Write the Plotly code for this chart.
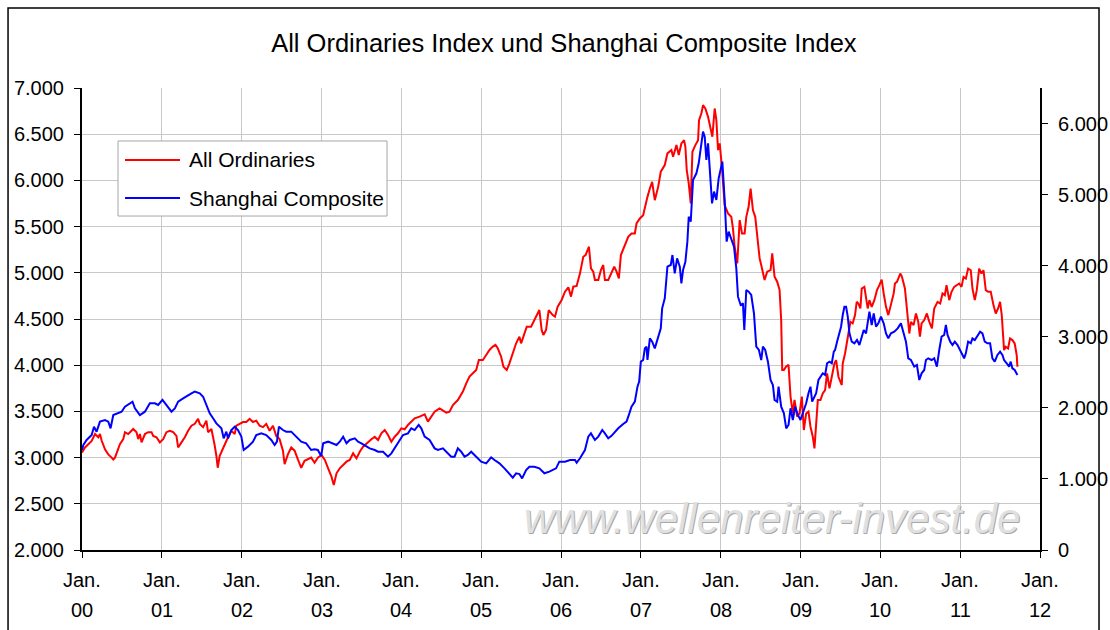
import plotly.graph_objects as go

# All Ordinaries (left axis), x = decimal year
aord_x = [
    2000.000, 2000.038, 2000.079, 2000.121, 2000.163, 2000.204, 2000.225, 2000.246, 2000.288, 2000.329,
    2000.371, 2000.392, 2000.413, 2000.454, 2000.475, 2000.517, 2000.538, 2000.579, 2000.621, 2000.642,
    2000.683, 2000.704, 2000.725, 2000.746, 2000.788, 2000.829, 2000.871, 2000.892, 2000.933, 2000.975,
    2001.017, 2001.058, 2001.100, 2001.142, 2001.183, 2001.204, 2001.246, 2001.288, 2001.329, 2001.371,
    2001.413, 2001.454, 2001.475, 2001.517, 2001.558, 2001.579, 2001.621, 2001.642, 2001.663, 2001.683,
    2001.700, 2001.725, 2001.767, 2001.808, 2001.850, 2001.871, 2001.913, 2001.933, 2001.975, 2002.017,
    2002.058, 2002.100, 2002.142, 2002.183, 2002.225, 2002.267, 2002.308, 2002.350, 2002.392, 2002.433,
    2002.475, 2002.517, 2002.538, 2002.579, 2002.621, 2002.663, 2002.704, 2002.746, 2002.788, 2002.829,
    2002.871, 2002.913, 2002.954, 2003.000, 2003.042, 2003.083, 2003.125, 2003.154, 2003.188, 2003.229,
    2003.271, 2003.313, 2003.354, 2003.396, 2003.438, 2003.479, 2003.521, 2003.583, 2003.625, 2003.667,
    2003.708, 2003.750, 2003.792, 2003.833, 2003.875, 2003.917, 2003.958, 2004.000, 2004.042, 2004.083,
    2004.125, 2004.167, 2004.229, 2004.292, 2004.333, 2004.375, 2004.417, 2004.479, 2004.521, 2004.563,
    2004.604, 2004.646, 2004.708, 2004.771, 2004.813, 2004.854, 2004.896, 2004.938, 2004.971, 2005.021,
    2005.063, 2005.104, 2005.146, 2005.179, 2005.208, 2005.250, 2005.279, 2005.321, 2005.354, 2005.396,
    2005.438, 2005.479, 2005.500, 2005.529, 2005.571, 2005.625, 2005.667, 2005.708, 2005.729, 2005.758,
    2005.779, 2005.813, 2005.846, 2005.896, 2005.925, 2005.958, 2006.008, 2006.050, 2006.092, 2006.125,
    2006.154, 2006.196, 2006.238, 2006.279, 2006.308, 2006.350, 2006.375, 2006.404, 2006.425, 2006.467,
    2006.500, 2006.529, 2006.550, 2006.592, 2006.633, 2006.667, 2006.696, 2006.725, 2006.750, 2006.800,
    2006.842, 2006.883, 2006.925, 2006.946, 2006.988, 2007.029, 2007.050, 2007.083, 2007.113, 2007.142,
    2007.175, 2007.217, 2007.250, 2007.300, 2007.333, 2007.383, 2007.404, 2007.446, 2007.475, 2007.508,
    2007.542, 2007.558, 2007.575, 2007.600, 2007.625, 2007.646, 2007.683, 2007.717, 2007.729, 2007.758,
    2007.779, 2007.808, 2007.842, 2007.875, 2007.896, 2007.925, 2007.946, 2007.967, 2007.988, 2008.017,
    2008.050, 2008.092, 2008.133, 2008.154, 2008.175, 2008.208, 2008.238, 2008.267, 2008.300, 2008.321,
    2008.350, 2008.375, 2008.404, 2008.433, 2008.458, 2008.488, 2008.508, 2008.550, 2008.583, 2008.625,
    2008.646, 2008.675, 2008.708, 2008.738, 2008.758, 2008.771, 2008.792, 2008.821, 2008.850, 2008.875,
    2008.904, 2008.925, 2008.958, 2008.988, 2009.017, 2009.042, 2009.071, 2009.100, 2009.125, 2009.154,
    2009.175, 2009.196, 2009.217, 2009.250, 2009.279, 2009.308, 2009.333, 2009.363, 2009.392, 2009.425,
    2009.446, 2009.475, 2009.517, 2009.529, 2009.558, 2009.592, 2009.625, 2009.654, 2009.683, 2009.704,
    2009.725, 2009.750, 2009.767, 2009.800, 2009.821, 2009.842, 2009.863, 2009.892, 2009.925, 2009.958,
    2009.988, 2010.017, 2010.042, 2010.071, 2010.100, 2010.133, 2010.167, 2010.183, 2010.208, 2010.250,
    2010.271, 2010.308, 2010.333, 2010.363, 2010.383, 2010.417, 2010.446, 2010.475, 2010.496, 2010.517,
    2010.550, 2010.583, 2010.613, 2010.646, 2010.675, 2010.717, 2010.750, 2010.779, 2010.808, 2010.829,
    2010.863, 2010.892, 2010.925, 2010.958, 2010.988, 2011.017, 2011.042, 2011.071, 2011.100, 2011.133,
    2011.154, 2011.183, 2011.208, 2011.238, 2011.267, 2011.292, 2011.321, 2011.350, 2011.383, 2011.417,
    2011.446, 2011.475, 2011.500, 2011.521, 2011.550, 2011.571, 2011.600, 2011.625, 2011.654, 2011.683,
    2011.708, 2011.717,
]
aord_y = [
    3055, 3110, 3145, 3180, 3255, 3220, 3255, 3185, 3090, 3035,
    3000, 2980, 3000, 3110, 3145, 3200, 3275, 3255, 3290, 3310,
    3275, 3200, 3255, 3165, 3255, 3275, 3275, 3235, 3220, 3165,
    3200, 3275, 3290, 3275, 3235, 3110, 3165, 3220, 3290, 3345,
    3365, 3420, 3365, 3330, 3400, 3275, 3310, 3235, 3128, 3020,
    2890, 3020, 3110, 3180, 3255, 3290, 3255, 3345, 3365, 3385,
    3385, 3420, 3385, 3400, 3345, 3330, 3365, 3290, 3345, 3235,
    3200, 3075, 2930, 3035, 3110, 3075, 2980, 2890, 2965, 2980,
    3000, 2945, 3000, 3028, 2974, 2884, 2794, 2703, 2830, 2884,
    2920, 2956, 2974, 3046, 2992, 3064, 3118, 3172, 3198, 3226,
    3190, 3263, 3299, 3245, 3172, 3226, 3263, 3317, 3306, 3353,
    3389, 3425, 3443, 3468, 3389, 3443, 3497, 3533, 3508, 3486,
    3497, 3569, 3623, 3714, 3804, 3876, 3912, 3948, 4056, 4056,
    4110, 4165, 4201, 4219, 4183, 4092, 3984, 3948, 4020, 4128,
    4237, 4309, 4237, 4309, 4417, 4417, 4489, 4561, 4597, 4381,
    4327, 4381, 4597, 4543, 4525, 4634, 4706, 4796, 4843, 4742,
    4850, 4857, 4994, 5174, 5192, 5282, 5048, 5012, 4922, 4922,
    5030, 5084, 4922, 4922, 4994, 5066, 5012, 4940, 5192, 5300,
    5390, 5426, 5426, 5534, 5588, 5624, 5714, 5822, 5912, 5984,
    5786, 5930, 6094, 6166, 6292, 6328, 6256, 6382, 6274, 6400,
    6436, 6364, 6112, 5968, 5750, 6310, 6382, 6436, 6652, 6724,
    6814, 6778, 6688, 6544, 6472, 6778, 6652, 6328, 6400, 6130,
    5732, 5642, 5606, 5480, 5282, 5102, 5570, 5426, 5426, 5606,
    5714, 5912, 5678, 5606, 5426, 5156, 5084, 4922, 5012, 5030,
    5210, 4958, 4904, 4814, 4490, 3949, 3949, 3986, 4004, 3661,
    3480, 3625, 3444, 3480, 3661, 3298, 3478, 3497, 3334, 3226,
    3100, 3370, 3623, 3623, 3695, 3731, 3911, 3749, 3875, 4019,
    4055, 3875, 3785, 4019, 4127, 4290, 4470, 4452, 4542, 4686,
    4668, 4614, 4830, 4848, 4704, 4614, 4704, 4632, 4704, 4812,
    4866, 4927, 4776, 4632, 4542, 4650, 4776, 4884, 4902, 4992,
    4956, 4830, 4614, 4343, 4470, 4434, 4560, 4470, 4308, 4452,
    4488, 4560, 4470, 4398, 4614, 4686, 4668, 4776, 4758, 4866,
    4704, 4794, 4848, 4866, 4884, 4848, 4956, 4938, 5046, 5028,
    4830, 4704, 4812, 5046, 4992, 5028, 4812, 4794, 4794, 4650,
    4560, 4614, 4686, 4542, 4163, 4199, 4181, 4290, 4272, 4235,
    4109, 3983,
]

# Shanghai Composite (right axis), x = decimal year
ssec_x = [
    2000.000, 2000.017, 2000.058, 2000.121, 2000.150, 2000.183, 2000.225, 2000.288, 2000.329, 2000.358,
    2000.392, 2000.454, 2000.496, 2000.538, 2000.600, 2000.633, 2000.663, 2000.725, 2000.788, 2000.850,
    2000.913, 2000.954, 2001.008, 2001.058, 2001.121, 2001.163, 2001.204, 2001.267, 2001.308, 2001.371,
    2001.413, 2001.475, 2001.517, 2001.558, 2001.600, 2001.642, 2001.683, 2001.746, 2001.775, 2001.808,
    2001.829, 2001.871, 2001.913, 2001.954, 2001.996, 2002.025, 2002.079, 2002.142, 2002.183, 2002.246,
    2002.308, 2002.371, 2002.413, 2002.442, 2002.467, 2002.517, 2002.558, 2002.621, 2002.683, 2002.746,
    2002.808, 2002.871, 2002.913, 2002.954, 2002.996, 2003.021, 2003.083, 2003.146, 2003.188, 2003.229,
    2003.271, 2003.313, 2003.354, 2003.417, 2003.458, 2003.500, 2003.542, 2003.604, 2003.667, 2003.708,
    2003.771, 2003.833, 2003.875, 2003.917, 2003.958, 2004.021, 2004.083, 2004.125, 2004.167, 2004.217,
    2004.250, 2004.292, 2004.354, 2004.417, 2004.458, 2004.521, 2004.563, 2004.625, 2004.667, 2004.708,
    2004.750, 2004.792, 2004.833, 2004.875, 2004.938, 2005.000, 2005.063, 2005.125, 2005.167, 2005.229,
    2005.292, 2005.354, 2005.396, 2005.438, 2005.479, 2005.513, 2005.563, 2005.604, 2005.667, 2005.729,
    2005.792, 2005.854, 2005.896, 2005.938, 2005.979, 2006.050, 2006.113, 2006.175, 2006.196, 2006.238,
    2006.300, 2006.342, 2006.375, 2006.404, 2006.425, 2006.467, 2006.517, 2006.550, 2006.592, 2006.633,
    2006.675, 2006.717, 2006.779, 2006.821, 2006.850, 2006.883, 2006.925, 2006.958, 2006.979, 2007.000,
    2007.029, 2007.050, 2007.071, 2007.083, 2007.113, 2007.142, 2007.175, 2007.217, 2007.250, 2007.267,
    2007.300, 2007.333, 2007.375, 2007.396, 2007.425, 2007.454, 2007.488, 2007.508, 2007.529, 2007.558,
    2007.583, 2007.600, 2007.625, 2007.654, 2007.696, 2007.725, 2007.750, 2007.779, 2007.800, 2007.821,
    2007.842, 2007.863, 2007.892, 2007.917, 2007.946, 2007.975, 2008.000, 2008.021, 2008.050, 2008.075,
    2008.100, 2008.133, 2008.167, 2008.196, 2008.217, 2008.250, 2008.279, 2008.296, 2008.321, 2008.350,
    2008.383, 2008.417, 2008.446, 2008.479, 2008.508, 2008.529, 2008.558, 2008.592, 2008.625, 2008.654,
    2008.675, 2008.708, 2008.725, 2008.758, 2008.792, 2008.821, 2008.850, 2008.875, 2008.904, 2008.933,
    2008.967, 2009.000, 2009.029, 2009.071, 2009.100, 2009.125, 2009.146, 2009.175, 2009.196, 2009.225,
    2009.258, 2009.279, 2009.308, 2009.333, 2009.363, 2009.392, 2009.417, 2009.433, 2009.458, 2009.488,
    2009.508, 2009.529, 2009.550, 2009.571, 2009.592, 2009.613, 2009.642, 2009.675, 2009.708, 2009.738,
    2009.758, 2009.792, 2009.821, 2009.842, 2009.863, 2009.892, 2009.917, 2009.946, 2009.975, 2010.008,
    2010.042, 2010.071, 2010.100, 2010.133, 2010.175, 2010.217, 2010.258, 2010.292, 2010.321, 2010.350,
    2010.383, 2010.425, 2010.458, 2010.488, 2010.517, 2010.550, 2010.571, 2010.600, 2010.642, 2010.675,
    2010.708, 2010.738, 2010.767, 2010.800, 2010.821, 2010.842, 2010.875, 2010.904, 2010.933, 2010.967,
    2011.000, 2011.029, 2011.050, 2011.071, 2011.100, 2011.133, 2011.154, 2011.183, 2011.217, 2011.250,
    2011.279, 2011.308, 2011.342, 2011.375, 2011.404, 2011.433, 2011.467, 2011.500, 2011.529, 2011.550,
    2011.583, 2011.613, 2011.633, 2011.654, 2011.683, 2011.717,
]
ssec_y = [
    1407, 1477, 1548, 1618, 1735, 1665, 1806, 1829, 1806, 1712,
    1899, 1923, 1946, 2017, 2064, 2087, 1993, 1899, 1946, 2064,
    2064, 2040, 2111, 2040, 1946, 1993, 2087, 2134, 2157, 2204,
    2228, 2204, 2157, 2040, 1923, 1853, 1782, 1712, 1571, 1665,
    1571, 1688, 1735, 1688, 1595, 1407, 1454, 1524, 1618, 1642,
    1618, 1548, 1477, 1524, 1735, 1688, 1665, 1665, 1595, 1524,
    1501, 1407, 1416, 1407, 1323, 1501, 1524, 1501, 1477, 1524,
    1595, 1501, 1548, 1571, 1524, 1501, 1477, 1430, 1407, 1383,
    1383, 1313, 1360, 1430, 1501, 1618, 1641, 1712, 1688, 1759,
    1712, 1595, 1548, 1430, 1407, 1430, 1383, 1313, 1313, 1430,
    1383, 1313, 1337, 1383, 1313, 1243, 1219, 1304, 1266, 1219,
    1149, 1079, 1018, 1079, 1069, 1008, 1126, 1172, 1172, 1149,
    1079, 1102, 1126, 1149, 1243, 1243, 1266, 1266, 1229, 1290,
    1407, 1595, 1641, 1595, 1548, 1595, 1689, 1641, 1571, 1606,
    1665, 1712, 1773, 1806, 1900, 2017, 2087, 2298, 2369, 2650,
    2673, 2837, 2861, 2673, 2978, 2931, 2837, 2978, 3118, 3400,
    3541, 3986, 4010, 4150, 3892, 4103, 3986, 3752, 3939, 4056,
    4338, 4689, 4619, 5206, 5300, 5441, 5629, 5887, 5816, 5488,
    5722, 5323, 4877, 5042, 4925, 5229, 5347, 5464, 4925, 4338,
    4479, 4385, 4268, 3963, 3564, 3447, 3470, 3095, 3658, 3635,
    3588, 3330, 2861, 2814, 2673, 2861, 2814, 2650, 2392, 2322,
    2111, 2087, 2298, 2017, 1923, 1712, 1759, 1994, 1829, 2017,
    1900, 1829, 1923, 2064, 2205, 2298, 2087, 2158, 2205, 2392,
    2463, 2486, 2463, 2627, 2650, 2627, 2791, 2814, 2931, 3048,
    3142, 3306, 3423, 3423, 3283, 3048, 2931, 2908, 2955, 2884,
    2955, 3095, 3048, 3189, 3353, 3166, 3330, 3142, 3189, 3283,
    3189, 3048, 2978, 3048, 3072, 3118, 3189, 3048, 2931, 2697,
    2673, 2580, 2603, 2392, 2486, 2533, 2673, 2697, 2673, 2697,
    2580, 2814, 3001, 3025, 3165, 3025, 2931, 2884, 2931, 2884,
    2814, 2744, 2697, 2767, 2931, 2908, 2978, 2955, 3025, 3072,
    3048, 2931, 2908, 2908, 2697, 2650, 2744, 2791, 2744, 2673,
    2627, 2580, 2650, 2556, 2533, 2463,
]

year_ticks = list(range(2000, 2013))
tick_month = ["Jan."] * len(year_ticks)
tick_year = ["00", "01", "02", "03", "04", "05", "06", "07", "08", "09", "10", "11", "12"]

FONT = "Liberation Sans, Arial, sans-serif"

fig = go.Figure()
fig.add_trace(go.Scatter(x=aord_x, y=aord_y, mode="lines", name="All Ordinaries",
                         line=dict(color="#ff0000", width=2)))
fig.add_trace(go.Scatter(x=ssec_x, y=ssec_y, mode="lines", name="Shanghai Composite",
                         line=dict(color="#0000ff", width=2), yaxis="y2"))

# x tick labels (two rows)
annotations = []
for yr, m, t in zip(year_ticks, tick_month, tick_year):
    annotations.append(dict(x=yr, y=-0.065, xref="x", yref="paper", text=m, showarrow=False,
                            font=dict(size=20, color="black", family=FONT), yanchor="middle"))
    annotations.append(dict(x=yr, y=-0.13, xref="x", yref="paper", text=t, showarrow=False,
                            font=dict(size=20, color="black", family=FONT), yanchor="middle"))

# manual legend
annotations.append(dict(x=0.1096, y=0.8442, xref="paper", yref="paper", text="All Ordinaries",
                        showarrow=False, xanchor="left", yanchor="middle",
                        font=dict(size=21, color="black", family=FONT)))
annotations.append(dict(x=0.1096, y=0.7619, xref="paper", yref="paper", text="Shanghai Composite",
                        showarrow=False, xanchor="left", yanchor="middle",
                        font=dict(size=21, color="black", family=FONT)))

# watermark (shadow + face)
for dx, dy, col in [(1, -1, "#a8a8a8"), (0, 0, "#e0e0e0")]:
    annotations.append(dict(x=0.72, y=0.069, xref="paper", yref="paper",
                            text="<i>www.wellenreiter-invest.de</i>", showarrow=False,
                            xshift=dx, yshift=dy, xanchor="center", yanchor="middle",
                            font=dict(size=42, color=col, family=FONT)))

shapes = [
    # outer chart border
    dict(type="rect", xref="paper", yref="paper", x0=-0.0772, x1=1.0616, y0=-0.2, y1=1.1732,
         line=dict(color="black", width=1.5), layer="below"),
    # legend box
    dict(type="rect", xref="paper", yref="paper", x0=0.0376, x1=0.3184, y0=0.7229, y1=0.8853,
         line=dict(color="#a6a6a6", width=1), fillcolor="white", layer="above"),
    dict(type="line", xref="paper", yref="paper", x0=0.0449, x1=0.1023, y0=0.8442, y1=0.8442,
         line=dict(color="#ff0000", width=2), layer="above"),
    dict(type="line", xref="paper", yref="paper", x0=0.0449, x1=0.1023, y0=0.7619, y1=0.7619,
         line=dict(color="#0000ff", width=2), layer="above"),
]

fig.update_layout(
    width=1110, height=630, autosize=False,
    margin=dict(l=82, r=70, t=88, b=80),
    paper_bgcolor="white", plot_bgcolor="white",
    separators=",.",
    showlegend=False,
    title=dict(text="All Ordinaries Index und Shanghai Composite Index", x=0.503, xref="paper",
               y=0.932, yanchor="middle", xanchor="center",
               font=dict(size=25.5, color="black", family=FONT)),
    font=dict(family=FONT, size=20, color="black"),
    xaxis=dict(range=[2000, 2012], tickvals=year_ticks, showticklabels=False, automargin=False,
               ticks="outside", ticklen=6, tickcolor="black",
               showgrid=True, gridcolor="#c8c8c8", gridwidth=1,
               showline=True, linecolor="black", linewidth=1.5, zeroline=False),
    yaxis=dict(range=[2000, 7000], dtick=500, tick0=2000, tickformat=",.0f", automargin=False,
               ticks="outside", ticklen=6, tickcolor="black",
               showgrid=True, gridcolor="#c8c8c8", gridwidth=1,
               showline=True, linecolor="black", linewidth=2, zeroline=False,
               ticklabelstandoff=6, tickfont=dict(size=20, color="black", family=FONT)),
    yaxis2=dict(range=[0, 6500], dtick=1000, tick0=0, tickformat=",.0f", overlaying="y", side="right",
                automargin=False,
                ticks="outside", ticklen=6, tickcolor="black", showgrid=False,
                showline=True, linecolor="black", linewidth=2, zeroline=False,
                ticklabelstandoff=6, tickfont=dict(size=20, color="black", family=FONT)),
    annotations=annotations,
    shapes=shapes,
)

fig.write_html(
    "out.html",
    config={"displayModeBar": False, "responsive": False},
    default_width="1110px",
    default_height="630px",
    post_script="document.body.style.margin = '0px'; document.body.style.overflow = 'hidden';",
)
